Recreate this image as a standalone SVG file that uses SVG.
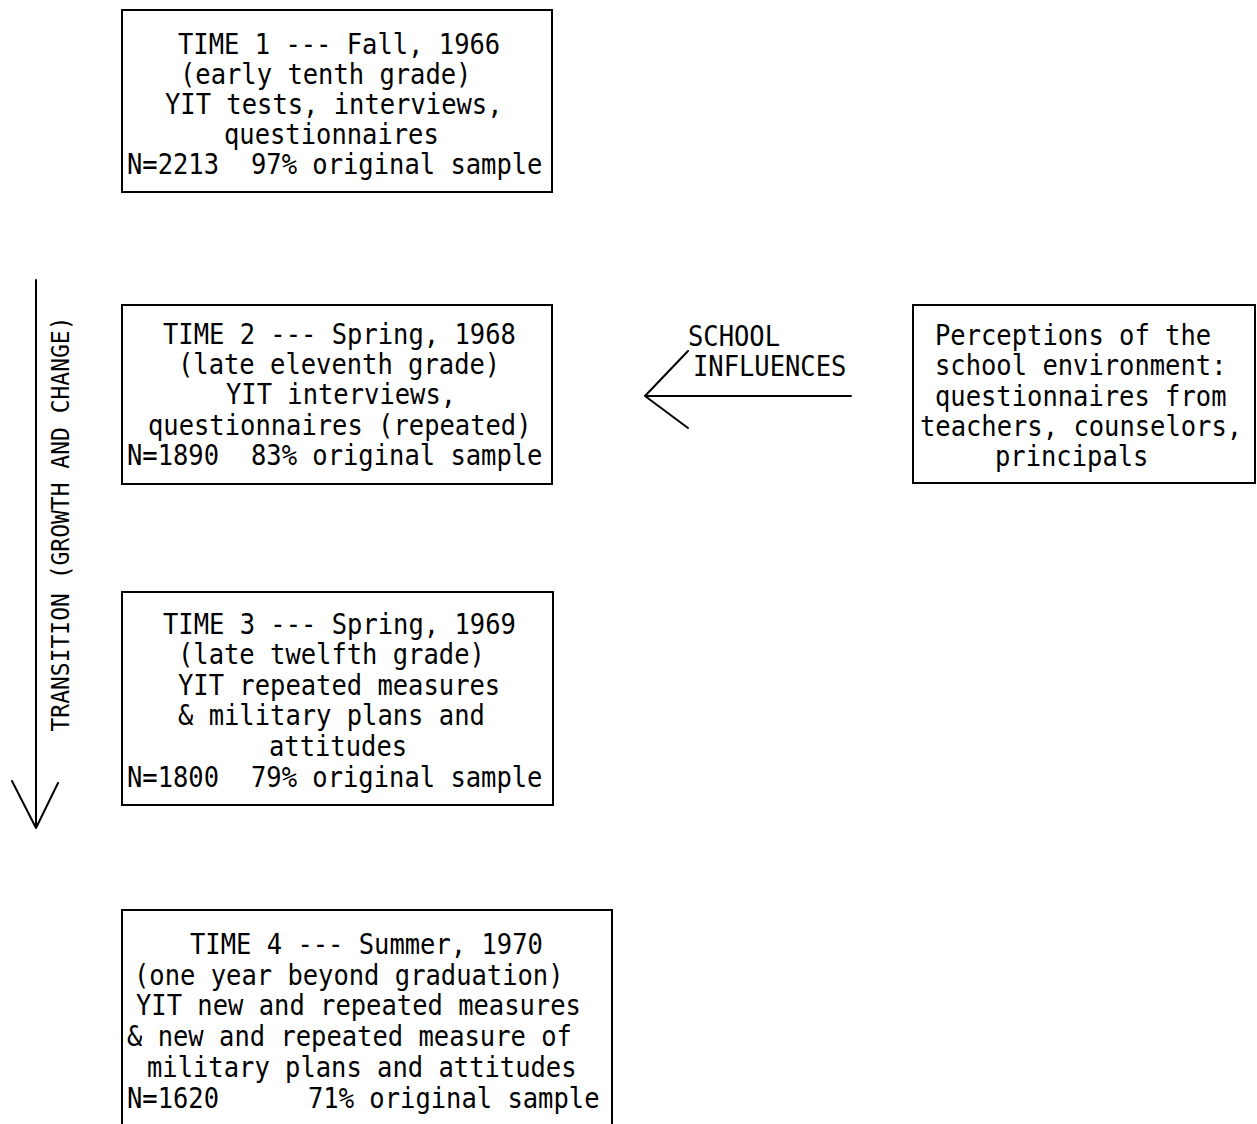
<svg xmlns="http://www.w3.org/2000/svg" width="1257" height="1124" viewBox="0 0 1257 1124">
<style>
.box{fill:#fff;stroke:#000;stroke-width:2}
.t{font-family:"DejaVu Sans Mono","Liberation Mono",monospace;font-size:25.5px;fill:#000}
.v{font-family:"DejaVu Sans Mono","Liberation Mono",monospace;font-size:23px;fill:#000}
.ln{fill:none;stroke:#000;stroke-width:2;stroke-linecap:round;stroke-linejoin:round}
</style>
<rect width="1257" height="1124" fill="#fff"/>
<g id="time1">
<rect class="box" x="122" y="10" width="430" height="182"/>
<text class="t" transform="translate(0,54) scale(1,1.13) translate(0,-54)"><tspan x="178" y="54">TIME 1 --- Fall, 1966</tspan><tspan x="180" y="80.55">(early tenth grade)</tspan><tspan x="165" y="107.1">YIT tests, interviews,</tspan><tspan x="224" y="133.65">questionnaires</tspan><tspan x="127" y="160.2">N=2213</tspan><tspan x="251" y="160.2">97% original sample</tspan></text>
</g>
<g id="time2">
<rect class="box" x="122" y="305" width="430" height="179"/>
<text class="t" transform="translate(0,344) scale(1,1.13) translate(0,-344)"><tspan x="163" y="344">TIME 2 --- Spring, 1968</tspan><tspan x="178" y="370.55">(late eleventh grade)</tspan><tspan x="226" y="397.1">YIT interviews,</tspan><tspan x="148" y="424.53">questionnaires (repeated)</tspan><tspan x="127" y="451.08">N=1890</tspan><tspan x="251" y="451.08">83% original sample</tspan></text>
</g>
<g id="time3">
<rect class="box" x="122" y="592" width="431" height="213"/>
<text class="t" transform="translate(0,634) scale(1,1.13) translate(0,-634)"><tspan x="163" y="634">TIME 3 --- Spring, 1969</tspan><tspan x="178" y="660.55">(late twelfth grade)</tspan><tspan x="178" y="687.98">YIT repeated measures</tspan><tspan x="178" y="714.53">&amp; military plans and</tspan><tspan x="269" y="741.96">attitudes</tspan><tspan x="127" y="769.4">N=1800</tspan><tspan x="251" y="769.4">79% original sample</tspan></text>
</g>
<g id="time4">
<path class="box" d="M122,1126 V910 H612 V1126"/>
<text class="t" transform="translate(0,954) scale(1,1.13) translate(0,-954)"><tspan x="190" y="954">TIME 4 --- Summer, 1970</tspan><tspan x="134" y="981.43">(one year beyond graduation)</tspan><tspan x="136" y="1007.98">YIT new and repeated measures</tspan><tspan x="127" y="1035.42">&amp; new and repeated measure of</tspan><tspan x="147" y="1062.85">military plans and attitudes</tspan><tspan x="127" y="1090.28">N=1620</tspan><tspan x="308" y="1090.28">71% original sample</tspan></text>
</g>
<g id="school">
<rect class="box" x="913" y="305" width="342" height="178"/>
<text class="t" transform="translate(0,345) scale(1,1.13) translate(0,-345)"><tspan x="935" y="345">Perceptions of the</tspan><tspan x="935" y="371.55">school environment:</tspan><tspan x="935" y="398.98">questionnaires from</tspan><tspan x="920" y="425.53">teachers, counselors,</tspan><tspan x="995" y="452.08">principals</tspan></text>
</g>
<g id="connectors">
<path class="ln" d="M851,396 H645 M688,351 L645,396 L688,428"/>
<text class="t" transform="translate(0,346) scale(1,1.13) translate(0,-346)"><tspan x="688" y="346">SCHOOL</tspan><tspan x="693" y="372.55">INFLUENCES</tspan></text>
<path class="ln" d="M36,280 V828 M12,781 L36,828 L58,783"/>
<text class="v" transform="translate(69,524) rotate(-90) scale(1,1.1)" text-anchor="middle">TRANSITION (GROWTH AND CHANGE)</text>
</g>
</svg>
